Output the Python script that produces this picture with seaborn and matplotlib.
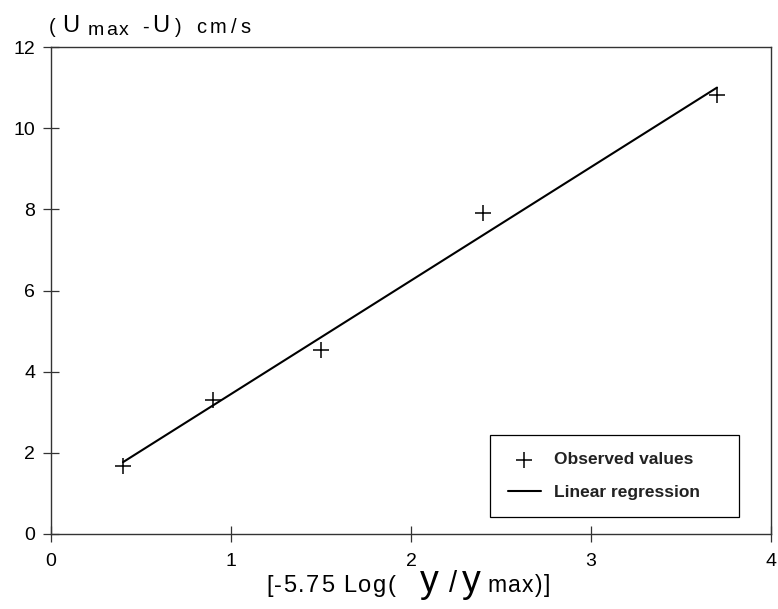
import matplotlib
matplotlib.use("Agg")
import matplotlib.pyplot as plt
from matplotlib.font_manager import FontProperties, findfont, get_font
from matplotlib.ft2font import LOAD_NO_HINTING
import seaborn as sns
import pandas as pd

# Observed velocity-defect points
x_obs = [0.4, 0.9, 1.5, 2.4, 3.7]
y_obs = [1.67, 3.3, 4.53, 7.9, 10.81]

# Fitted regression line (end points)
x_fit = [0.4, 3.7]
y_fit = [1.77, 11.0]

x_ticks = [0, 1, 2, 3, 4]
y_ticks = [0, 2, 4, 6, 8, 10, 12]

sns.set_style("ticks")
plt.rcParams["font.family"] = ["Liberation Sans", "DejaVu Sans"]

W, H = 778, 609
DPI = 100
fig = plt.figure(figsize=(W / DPI, H / DPI), dpi=DPI)
ax = fig.add_axes([51 / W, 1 - 534 / H, 720 / W, 487 / H])

obs = pd.DataFrame({"x": x_obs, "y": y_obs})
fit = pd.DataFrame({"x": x_fit, "y": y_fit})

sns.lineplot(data=fit, x="x", y="y", ax=ax, color="black", linewidth=1.5,
             label="Linear regression")
sns.scatterplot(data=obs, x="x", y="y", ax=ax, marker="+", s=130,
                color="black", linewidth=1.1, label="Observed values")

ax.set_xlim(0, 4)
ax.set_ylim(0, 12)
ax.set_xticks(x_ticks)
ax.set_yticks(y_ticks)
ax.set_xlabel("")
ax.set_ylabel("")
ax.tick_params(axis="both", direction="inout", length=11, width=0.9,
               color="#333333", labelsize=14, labelcolor="black")
ax.tick_params(axis="x", pad=8)
ax.tick_params(axis="y", pad=6)
for sp in ax.spines.values():
    sp.set_visible(True)
    sp.set_color("#333333")
    sp.set_linewidth(1.0)

handles, labels = ax.get_legend_handles_labels()
order = [labels.index("Observed values"), labels.index("Linear regression")]
leg = ax.legend([handles[i] for i in order], [labels[i] for i in order],
                loc="lower left", bbox_to_anchor=(0.598, 0.017, 0.37, 0.17),
                mode="expand", frameon=True, fancybox=False, framealpha=1,
                edgecolor="black", borderpad=1.0, labelspacing=1.0,
                handlelength=1.9, handletextpad=0.75,
                prop={"size": 12.5, "weight": "bold"})
leg.get_frame().set_linewidth(0.9)
for t in leg.get_texts():
    t.set_color("#222222")


def advance(ch, size, weight="normal"):
    """Horizontal advance of one glyph in pixels."""
    fp = FontProperties(family="Liberation Sans", size=size, weight=weight)
    font = get_font(findfont(fp))
    font.set_size(size, DPI)
    g = font.load_char(ord(ch), flags=LOAD_NO_HINTING)
    return g.linearHoriAdvance / 65536


def tracked(px, py, s, size, track=0.0, weight="normal"):
    """Draw a string glyph by glyph with extra letter spacing (pixels)."""
    x = px
    for ch in s:
        if ch != " ":
            fig.text(x / W, 1 - py / H, ch, fontsize=size, va="baseline",
                     ha="left", color="black", fontweight=weight)
        x += advance(ch, size, weight) + track
    return x


# y-axis title: (U max - U) cm/s
tracked(49, 33, "(", 14.5)
tracked(62, 32, "U", 17, weight="light")
tracked(88, 35, "max", 14, track=2)
tracked(142, 33, "-", 14.5)
tracked(152, 32, "U", 17, weight="light")
tracked(175, 33, ")", 14.5)
tracked(196, 33, "cm/s", 14.5, track=4)

# x-axis title: [-5.75 Log( y / y max)]
tracked(266, 592, "[-5.75 Log(", 17, track=1.5)
tracked(420, 592, "y", 27)
tracked(449, 592, "/", 21)
tracked(462, 592, "y", 27)
tracked(487, 592, "max)]", 16.5, track=1.5)

fig.savefig("out.png", dpi=DPI)
